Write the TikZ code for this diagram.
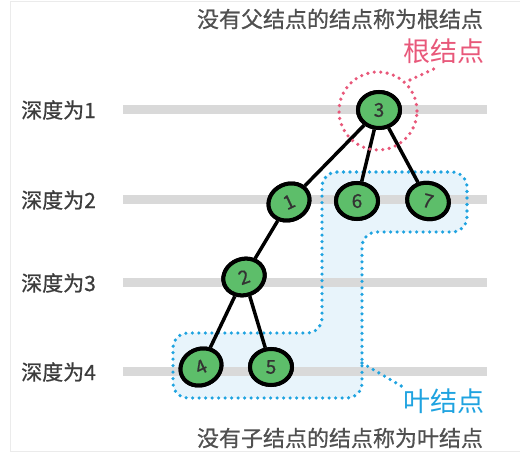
\documentclass[tikz,border=0pt]{standalone}
\usepackage{fontspec}
\setmainfont{Noto Sans CJK SC}
\newfontfamily\medfont{Noto Sans CJK SC}[FakeBold=0.8]
\usetikzlibrary{shapes.geometric}
\definecolor{leafgreen}{HTML}{5DBE6A}
\definecolor{barcol}{HTML}{D9D9D9}
\definecolor{rootred}{HTML}{E8587A}
\definecolor{leafblue}{HTML}{1FA3E0}
\definecolor{leaffill}{HTML}{E8F4FB}
\definecolor{txtgray}{HTML}{3C3C3C}
\tikzset{
  treenode/.style={ellipse, draw=black, line width=4pt, fill=leafgreen,
    minimum width=42pt, minimum height=36pt, inner sep=0pt,
    font=\fontsize{19}{19}\medfont, text=black!80},
  edge/.style={line width=3.5pt, black},
  bar/.style={line width=9pt, barcol},
  depthlabel/.style={anchor=west, inner sep=0pt, text=txtgray, font=\fontsize{21}{21}\medfont},
  caption/.style={inner sep=0pt, text=txtgray!90, font=\fontsize{22}{22}\medfont},
  reddot/.style={rootred, line width=3.6pt, dash pattern=on 0pt off 6.5pt, line cap=round},
  bluedot/.style={leafblue, line width=3.6pt, dash pattern=on 0pt off 6.5pt, line cap=round},
}
\begin{document}
\begin{tikzpicture}[x=1pt, y=-1pt]
\useasboundingbox (0,0) rectangle (520,454);
% faint frame
\draw[black!8, line width=1pt] (10,2) -- (520,2);
\draw[black!8, line width=1pt] (10,2) -- (10,452) -- (520,452);
% leaf region fill
\fill[leaffill, rounded corners=15pt] (322,172) -- (467,172) -- (467,232) -- (362,232) -- (362,398) -- (173,398) -- (173,333) -- (322,333) -- cycle;
% depth bars and labels
\foreach \y/\d in {110/1, 200/2, 283/3, 372/4}{
  \draw[bar] (123,\y) -- (487,\y);
  \node[depthlabel] (d\d) at (21,\y) {深度为\d};
}
% leaf region outline
\draw[bluedot, rounded corners=15pt] (322,172) -- (467,172) -- (467,232) -- (362,232) -- (362,398) -- (173,398) -- (173,333) -- (322,333) -- cycle;
% nodes (placed first to get anchors)
\path node[treenode] (n3) at (379,110) {3}
      node[treenode, rotate=25] (n1) at (289,202) {1}
      node[treenode] (n6) at (357,201) {6}
      node[treenode, rotate=-15] (n7) at (428,201) {7}
      node[treenode, rotate=20] (n2) at (244,277) {2}
      node[treenode, rotate=25] (n4) at (201,367) {4}
      node[treenode] (n5) at (271,367) {5};
% edges
\draw[edge] (n3) -- (n1);
\draw[edge] (n3) -- (n6);
\draw[edge] (n3) -- (n7);
\draw[edge] (n1) -- (n2);
\draw[edge] (n2) -- (n4);
\draw[edge] (n2) -- (n5);
% redraw nodes over edges
\node[treenode] at (n3) {3};
\node[treenode, rotate=25] at (n1) {1};
\node[treenode] at (n6) {6};
\node[treenode, rotate=-15] at (n7) {7};
\node[treenode, rotate=20] at (n2) {2};
\node[treenode, rotate=25] at (n4) {4};
\node[treenode] at (n5) {5};
% root highlight
\coordinate (rc) at (378,111);
\draw[reddot] (rc) circle (39pt);
\node[inner sep=0pt, text=rootred, font=\fontsize{27}{27}\selectfont] (rootlabel) at (444,51) {根结点};
\coordinate (rl1) at (410,80);
\coordinate (rl2) at (438,67);
\draw[reddot] (rl1) -- (rl2);
% leaf label
\node[inner sep=0pt, text=leafblue, font=\fontsize{27}{27}\selectfont] (leaflabel) at (444,401) {叶结点};
\coordinate (ll1) at (362,363);
\coordinate (ll2) at (403,387);
\draw[bluedot] (ll1) -- (ll2);
% captions
\node[caption] (toptext) at (340,19) {没有父结点的结点称为根结点};
\node[caption] (bottext) at (340,438) {没有子结点的结点称为叶结点};
\end{tikzpicture}
\end{document}
